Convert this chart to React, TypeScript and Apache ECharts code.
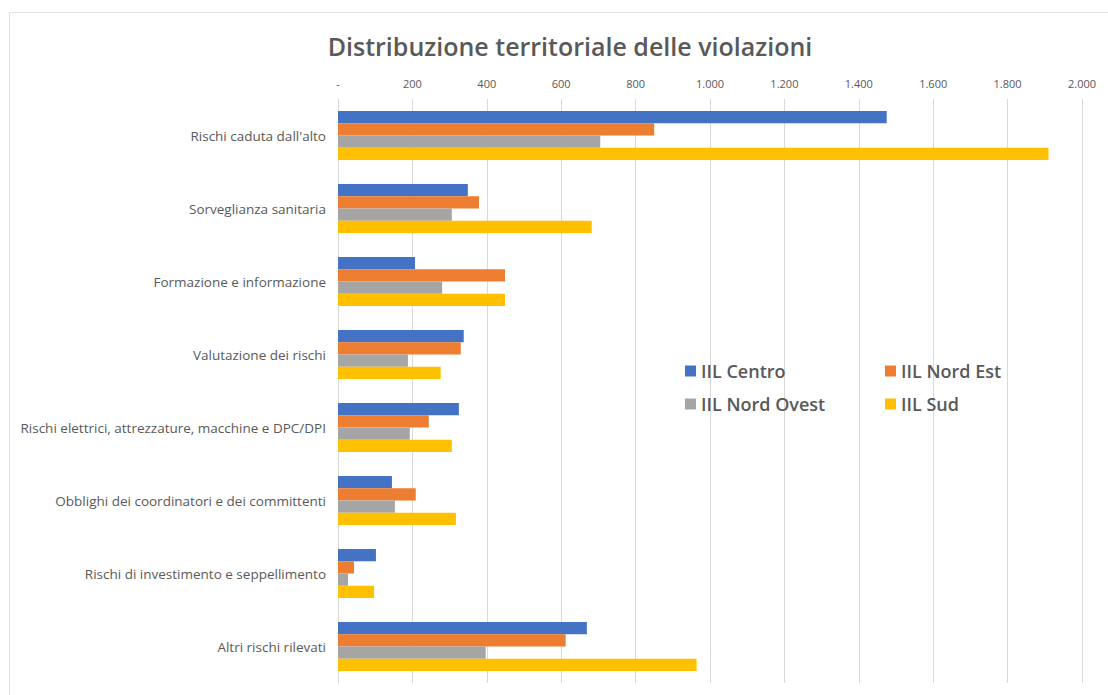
import React, { useEffect, useRef } from "react";
import * as echarts from "echarts";

const categories = [
  "Rischi caduta dall'alto",
  "Sorveglianza sanitaria",
  "Formazione e informazione",
  "Valutazione dei rischi",
  "Rischi elettrici, attrezzature, macchine e DPC/DPI",
  "Obblighi dei coordinatori e dei committenti",
  "Rischi di investimento e seppellimento",
  "Altri rischi rilevati",
];

const seriesNames = ["IIL Centro", "IIL Nord Est", "IIL Nord Ovest", "IIL Sud"];
const colors = ["#4472C4", "#ED7D31", "#A5A5A5", "#FFC000"];

const centro = [1475, 349, 207, 338, 325, 145, 102, 669];
const nordEst = [850, 379, 449, 330, 244, 209, 43, 612];
const nordOvest = [705, 306, 280, 188, 193, 153, 27, 397];
const sud = [1910, 682, 449, 276, 306, 317, 97, 964];

const seriesValues = [centro, nordEst, nordOvest, sud];

const tickLabels: Record<number, string> = {
  0: "-",
  200: "200",
  400: "400",
  600: "600",
  800: "800",
  1000: "1.000",
  1200: "1.200",
  1400: "1.400",
  1600: "1.600",
  1800: "1.800",
  2000: "2.000",
};

const FONT = "'Open Sans', 'Noto Sans', sans-serif";

export default function App() {
  const ref = useRef<HTMLDivElement>(null);

  useEffect(() => {
    if (!ref.current) return;
    const chart = echarts.init(ref.current, undefined, { renderer: "svg" });
    chart.setOption({
      animation: false,
      backgroundColor: "#ffffff",
      title: {
        text: "Distribuzione territoriale delle violazioni",
        left: 565,
        textAlign: "center",
        top: 28,
        textStyle: {
          fontFamily: FONT,
          fontSize: 25,
          fontWeight: 600,
          color: "#595959",
        },
      },
      graphic: [
        {
          type: "rect",
          shape: { x: 9.5, y: 12.5, width: 1120, height: 700 },
          style: { fill: "none", stroke: "#e2e2e2", lineWidth: 1 },
          silent: true,
        },
      ],
      legend: [
        {
          data: [seriesNames[0], seriesNames[2]],
          orient: "vertical",
          left: 680,
          top: 357,
          itemWidth: 11,
          itemHeight: 11,
          itemGap: 15,
          icon: "rect",
          textStyle: { fontFamily: FONT, fontSize: 18, fontWeight: 600, color: "#595959" },
        },
        {
          data: [seriesNames[1], seriesNames[3]],
          orient: "vertical",
          left: 880,
          top: 357,
          itemWidth: 11,
          itemHeight: 11,
          itemGap: 15,
          icon: "rect",
          textStyle: { fontFamily: FONT, fontSize: 18, fontWeight: 600, color: "#595959" },
        },
      ],
      grid: {
        left: 338,
        right: 1108 - 1082,
        top: 99,
        bottom: 695 - 683,
        containLabel: false,
      },
      xAxis: {
        type: "value",
        position: "top",
        min: 0,
        max: 2000,
        interval: 200,
        axisLine: { show: false },
        axisTick: { show: false },
        axisLabel: {
          fontFamily: FONT,
          fontSize: 11,
          color: "#595959",
          margin: 10,
          formatter: (v: number) => tickLabels[v] ?? String(v),
        },
        splitLine: { show: true, lineStyle: { color: "#d9d9d9", width: 1 } },
      },
      yAxis: {
        type: "category",
        data: categories,
        inverse: true,
        axisLine: { show: true, lineStyle: { color: "#d9d9d9" } },
        axisTick: { show: false },
        axisLabel: {
          fontFamily: FONT,
          fontSize: 13.5,
          color: "#595959",
          margin: 12,
        },
      },
      series: seriesNames.map((name, i) => ({
        name,
        type: "bar",
        data: seriesValues[i],
        itemStyle: { color: colors[i] },
        barGap: "0%",
        barCategoryGap: "33%",
      })),
    });
    return () => chart.dispose();
  }, []);

  return (
    <div
      ref={ref}
      style={{ position: "absolute", left: 0, top: 0, width: 1108, height: 695 }}
    />
  );
}
